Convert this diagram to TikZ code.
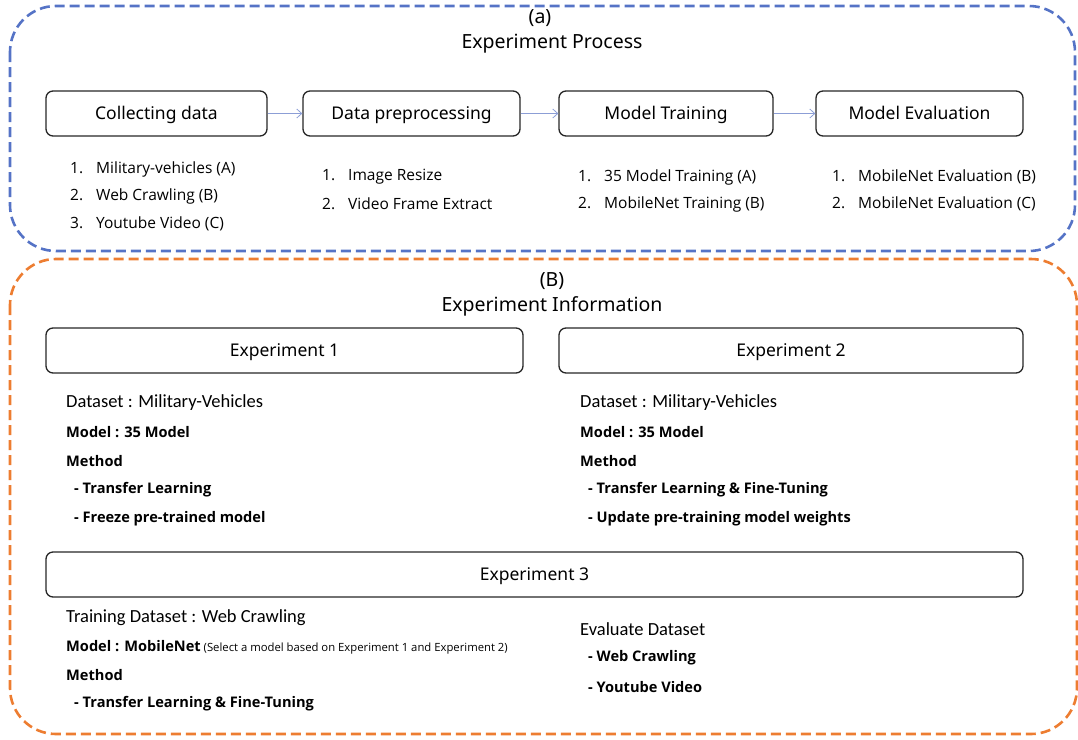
\documentclass[tikz,border=0pt]{standalone}
\usepackage{fontspec}
\setmainfont{Noto Sans}
\newfontfamily\listfont{Open Sans}
\newfontfamily\calfont{Carlito}
\usetikzlibrary{arrows.meta, positioning}
\definecolor{procblue}{HTML}{5573C6}
\definecolor{infoorange}{HTML}{ED7D31}
\definecolor{flowblue}{HTML}{8C9ED6}
\newcommand{\itemno}[1]{\makebox[26pt][l]{#1}}
\tikzset{
  groupframe/.style = {dash pattern=on 10pt off 5pt, line width=2.6pt, rounded corners=46pt},
  stagebox/.style = {draw=black!85, line width=1.3pt, rounded corners=7pt, minimum height=45pt,
                     inner sep=0pt, text height=12.5pt, text depth=0pt, font=\fontsize{17.5}{20}\selectfont},
  heading/.style = {inner sep=0pt, font=\fontsize{19.5}{22}\selectfont},
  listitem/.style = {anchor=west, inner sep=0pt, font=\listfont\fontsize{15.5}{18}\selectfont},
  dataline/.style = {anchor=west, inner sep=0pt, font=\calfont\fontsize{18.5}{21}\selectfont},
  boldline/.style = {anchor=west, inner sep=0pt, font=\listfont\bfseries\fontsize{14.6}{17}\selectfont},
  flow/.style = {draw=flowblue, line width=0.8pt, -{Straight Barb[length=5pt, width=9pt]}}
}

\begin{document}
\begin{tikzpicture}[x=1pt, y=-1pt]
\useasboundingbox (0,0) rectangle (1078,739);

% (a) experiment process
\draw [groupframe, draw=procblue] (10,6) rectangle (1075,251);
\node [heading] (titleA) at (540,18) {(a)};
\node [heading] (headA) at (552,44) {Experiment Process};
\node [stagebox, minimum width=221pt] (collect) at (156.5,113.5) {Collecting data};
\node [stagebox, minimum width=217pt] (prep) at (411.5,113.5) {Data preprocessing};
\node [stagebox, minimum width=214pt] (train) at (666,113.5) {Model Training};
\node [stagebox, minimum width=207pt] (eval) at (919.5,113.5) {Model Evaluation};
\draw [flow] (collect) -- (prep);
\draw [flow] (prep) -- (train);
\draw [flow] (train) -- (eval);

\node [listitem] (c1) at (70,169) {\itemno{1.}Military-vehicles (A)};
\node [listitem] (c2) at (70,196) {\itemno{2.}Web Crawling (B)};
\node [listitem] (c3) at (70,224) {\itemno{3.}Youtube Video (C)};
\node [listitem] (p1) at (322,177) {\itemno{1.}Image Resize};
\node [listitem] (p2) at (322,204) {\itemno{2.}Video Frame Extract};
\node [listitem] (t1) at (578,177) {\itemno{1.}35 Model Training (A)};
\node [listitem] (t2) at (578,204) {\itemno{2.}MobileNet Training (B)};
\node [listitem] (e1) at (832,177) {\itemno{1.}MobileNet Evaluation (B)};
\node [listitem] (e2) at (832,204) {\itemno{2.}MobileNet Evaluation (C)};

% (B) experiment information
\draw [groupframe, draw=infoorange] (10,259) rectangle (1077,734);
\node [heading] (titleB) at (552,281) {(B)};
\node [heading] (headB) at (552,306) {Experiment Information};
\node [stagebox, minimum width=477pt] (exp1) at (284.5,350.5) {Experiment 1};
\node [stagebox, minimum width=464pt] (exp2) at (791,350.5) {Experiment 2};
\node [stagebox, minimum width=977pt] (exp3) at (534.5,574.5) {Experiment 3};

\node [dataline] (ds1) at (66,403) {Dataset : Military-Vehicles};
\node [boldline] (md1) at (66,432) {Model : 35 Model};
\node [boldline] (mt1) at (66,461) {Method};
\node [boldline] (tl1) at (74,490) {- Transfer Learning};
\node [boldline] (fz1) at (74,519) {- Freeze pre-trained model};

\node [dataline] (ds2) at (580,403) {Dataset : Military-Vehicles};
\node [boldline] (md2) at (580,432) {Model : 35 Model};
\node [boldline] (mt2) at (580,461) {Method};
\node [boldline] (tl2) at (588,490) {- Transfer Learning \& Fine-Tuning};
\node [boldline] (up2) at (588,519) {- Update pre-training model weights};

\node [dataline] (ds3) at (66,618) {Training Dataset : Web Crawling};
\node [boldline] (md3) at (66,647) {Model : MobileNet{\mdseries\fontsize{11.3}{13}\selectfont\ (Select a model based on Experiment 1 and Experiment 2)}};
\node [boldline] (mt3) at (66,675) {Method};
\node [boldline] (tl3) at (74,704) {- Transfer Learning \& Fine-Tuning};
\node [dataline] (ev3) at (580,629) {Evaluate Dataset};
\node [boldline] (wc3) at (588,658) {- Web Crawling};
\node [boldline] (yt3) at (588,687) {- Youtube Video};
\end{tikzpicture}
\end{document}
